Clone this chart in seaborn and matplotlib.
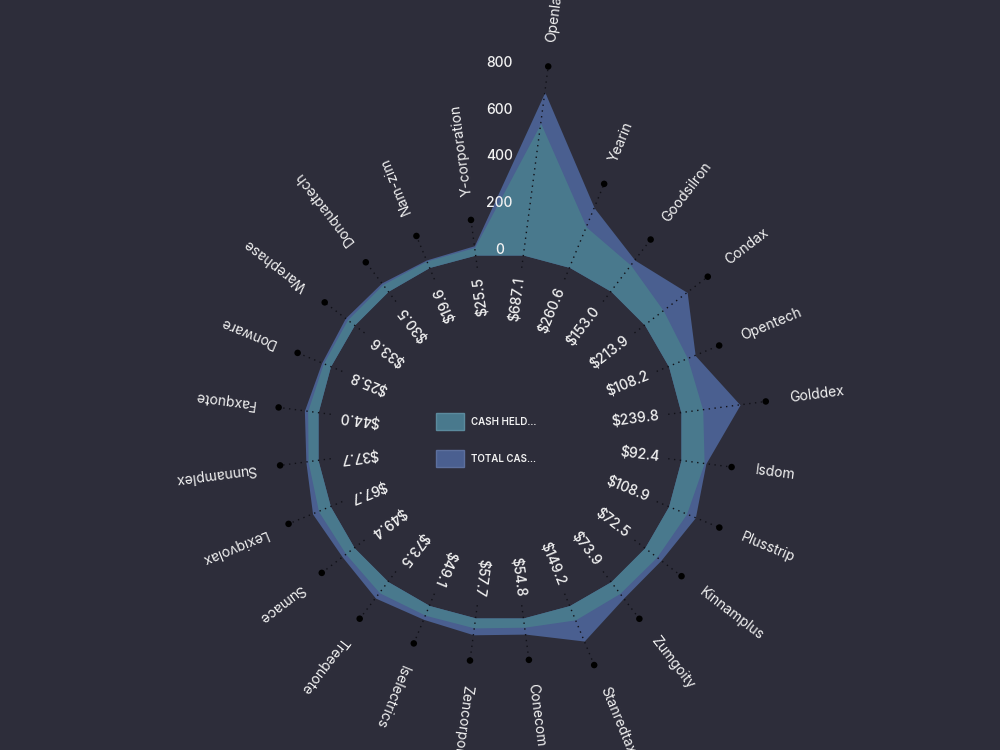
import numpy as np
import pandas as pd
import matplotlib
matplotlib.use("Agg")
import matplotlib.pyplot as plt
import seaborn as sns
from matplotlib.patches import Patch

# ---------------- data ----------------
categories = ["Openlane", "Yearin", "Goodsilron", "Condax", "Opentech", "Golddex",
              "Isdom", "Plusstrip", "Kinnamplus", "Zumgoity", "Stanredtax", "Conecom",
              "Zencorporation", "Iselectrics", "Treequote", "Sumace", "Lexiqvolax",
              "Sunnamplex", "Faxquote", "Donware", "Warephase", "Donquadtech",
              "Nam-zim", "Y-corporation"]
total_cash = [687.1, 260.6, 153.0, 213.9, 108.2, 239.8, 92.4, 108.9, 72.5, 73.9,
              149.2, 54.8, 57.7, 49.1, 73.5, 49.4, 67.7, 37.7, 44.0, 25.8, 33.6,
              30.5, 19.6, 25.5]
cash_held = [553.0, 172.0, 125.0, 86.0, 73.0, 79.0, 85.0, 68.0, 50.0, 48.0,
             51.0, 25.0, 28.0, 30.0, 45.0, 30.0, 40.0, 28.0, 30.0, 18.0, 22.0,
             22.0, 15.0, 18.0]
value_ticks = [0, 200, 400, 600, 800]
series_names = ["CASH HELD...", "TOTAL CAS..."]

# ---------------- style ----------------
BG = "#2d2d3a"
TEAL = "#49798d"
BLUE = "#4a5f90"
TXT = "#f2f2f2"

sns.set_theme(style="dark", rc={"axes.facecolor": BG, "figure.facecolor": BG,
                                "savefig.facecolor": BG})
plt.rcParams["font.family"] = ["Inter", "DejaVu Sans"]

fig = plt.figure(figsize=(10, 7.5), dpi=100)

# geometry (pixels): centre (499.5, 436.5), hole radius 186.5, 800 units -> 187.2 px
cx, cy, r0_px, k = 499.5, 436.5, 186.5, 0.234
R = r0_px + 800 * k
ax = fig.add_axes([(cx - R) / 1000, (750 - cy - R) / 750, 2 * R / 1000, 2 * R / 750],
                  projection="polar")
ax.set_theta_zero_location("N")
ax.set_theta_direction(-1)

n = len(categories)
theta = np.deg2rad(7.5 + 15 * np.arange(n))
df = pd.DataFrame({"cat": categories, "theta": theta,
                   "total": total_cash, "cash": cash_held})
df["dot_r"] = df["total"] + 111
df["lab_r"] = df["total"] + 214

th_c = np.r_[theta, theta[0] + 2 * np.pi]
tot_c = np.r_[total_cash, total_cash[0]]
cash_c = np.r_[cash_held, cash_held[0]]
base = -15

ax.fill_between(th_c, base, tot_c, color=BLUE, lw=0, clip_on=False, zorder=2)
ax.fill_between(th_c, base, cash_c, color=TEAL, lw=0, clip_on=False, zorder=3)

# dotted leader lines
for t, dr in zip(df["theta"], df["dot_r"]):
    ax.plot([t, t], [-70, dr], color="#111118", lw=1.0, ls=(0, (1, 3.2)),
            clip_on=False, zorder=4)

sns.scatterplot(data=df, x="theta", y="dot_r", ax=ax, color="black", s=22,
                edgecolor="none", clip_on=False, zorder=5, legend=False)

# category labels and inner value labels
for t, lr, cat, tv in zip(df["theta"], df["lab_r"], df["cat"], df["total"]):
    rot = 90 - np.rad2deg(t)
    ax.text(t, lr, cat, rotation=rot, rotation_mode="anchor", ha="left", va="center",
            color=TXT, fontsize=10, clip_on=False, zorder=6)
    ax.text(t, -109, f"${tv:.1f}", rotation=rot, rotation_mode="anchor", ha="right",
            va="center", color=TXT, fontsize=10, fontweight="medium",
            clip_on=False, zorder=6)

# value axis labels
for v in value_ticks:
    ax.text(0, v, str(v), ha="center", va="center", color=TXT, fontsize=10,
            fontweight="medium", clip_on=False, zorder=6)

ax.set_rlim(0, 800)
ax.set_rorigin(-r0_px / k)
ax.grid(False)
ax.set_xticks([])
ax.set_yticks([])
ax.set_xlabel("")
ax.set_ylabel("")
for s in ax.spines.values():
    s.set_visible(False)
ax.patch.set_alpha(0)

handles = [Patch(facecolor=TEAL, edgecolor="#5b8a9d", lw=1),
           Patch(facecolor=BLUE, edgecolor="#5c6f9d", lw=1)]
fig.legend(handles, series_names, loc="center left", bbox_to_anchor=(0.436, 0.4133),
           frameon=False, prop={"family": ["Inter", "DejaVu Sans"], "size": 7,
                                "weight": "semibold"},
           labelcolor=TXT, handlelength=2.9, handleheight=2.4, labelspacing=2.0,
           handletextpad=0.7, borderpad=0, borderaxespad=0)

fig.savefig("out.png", dpi=100)
